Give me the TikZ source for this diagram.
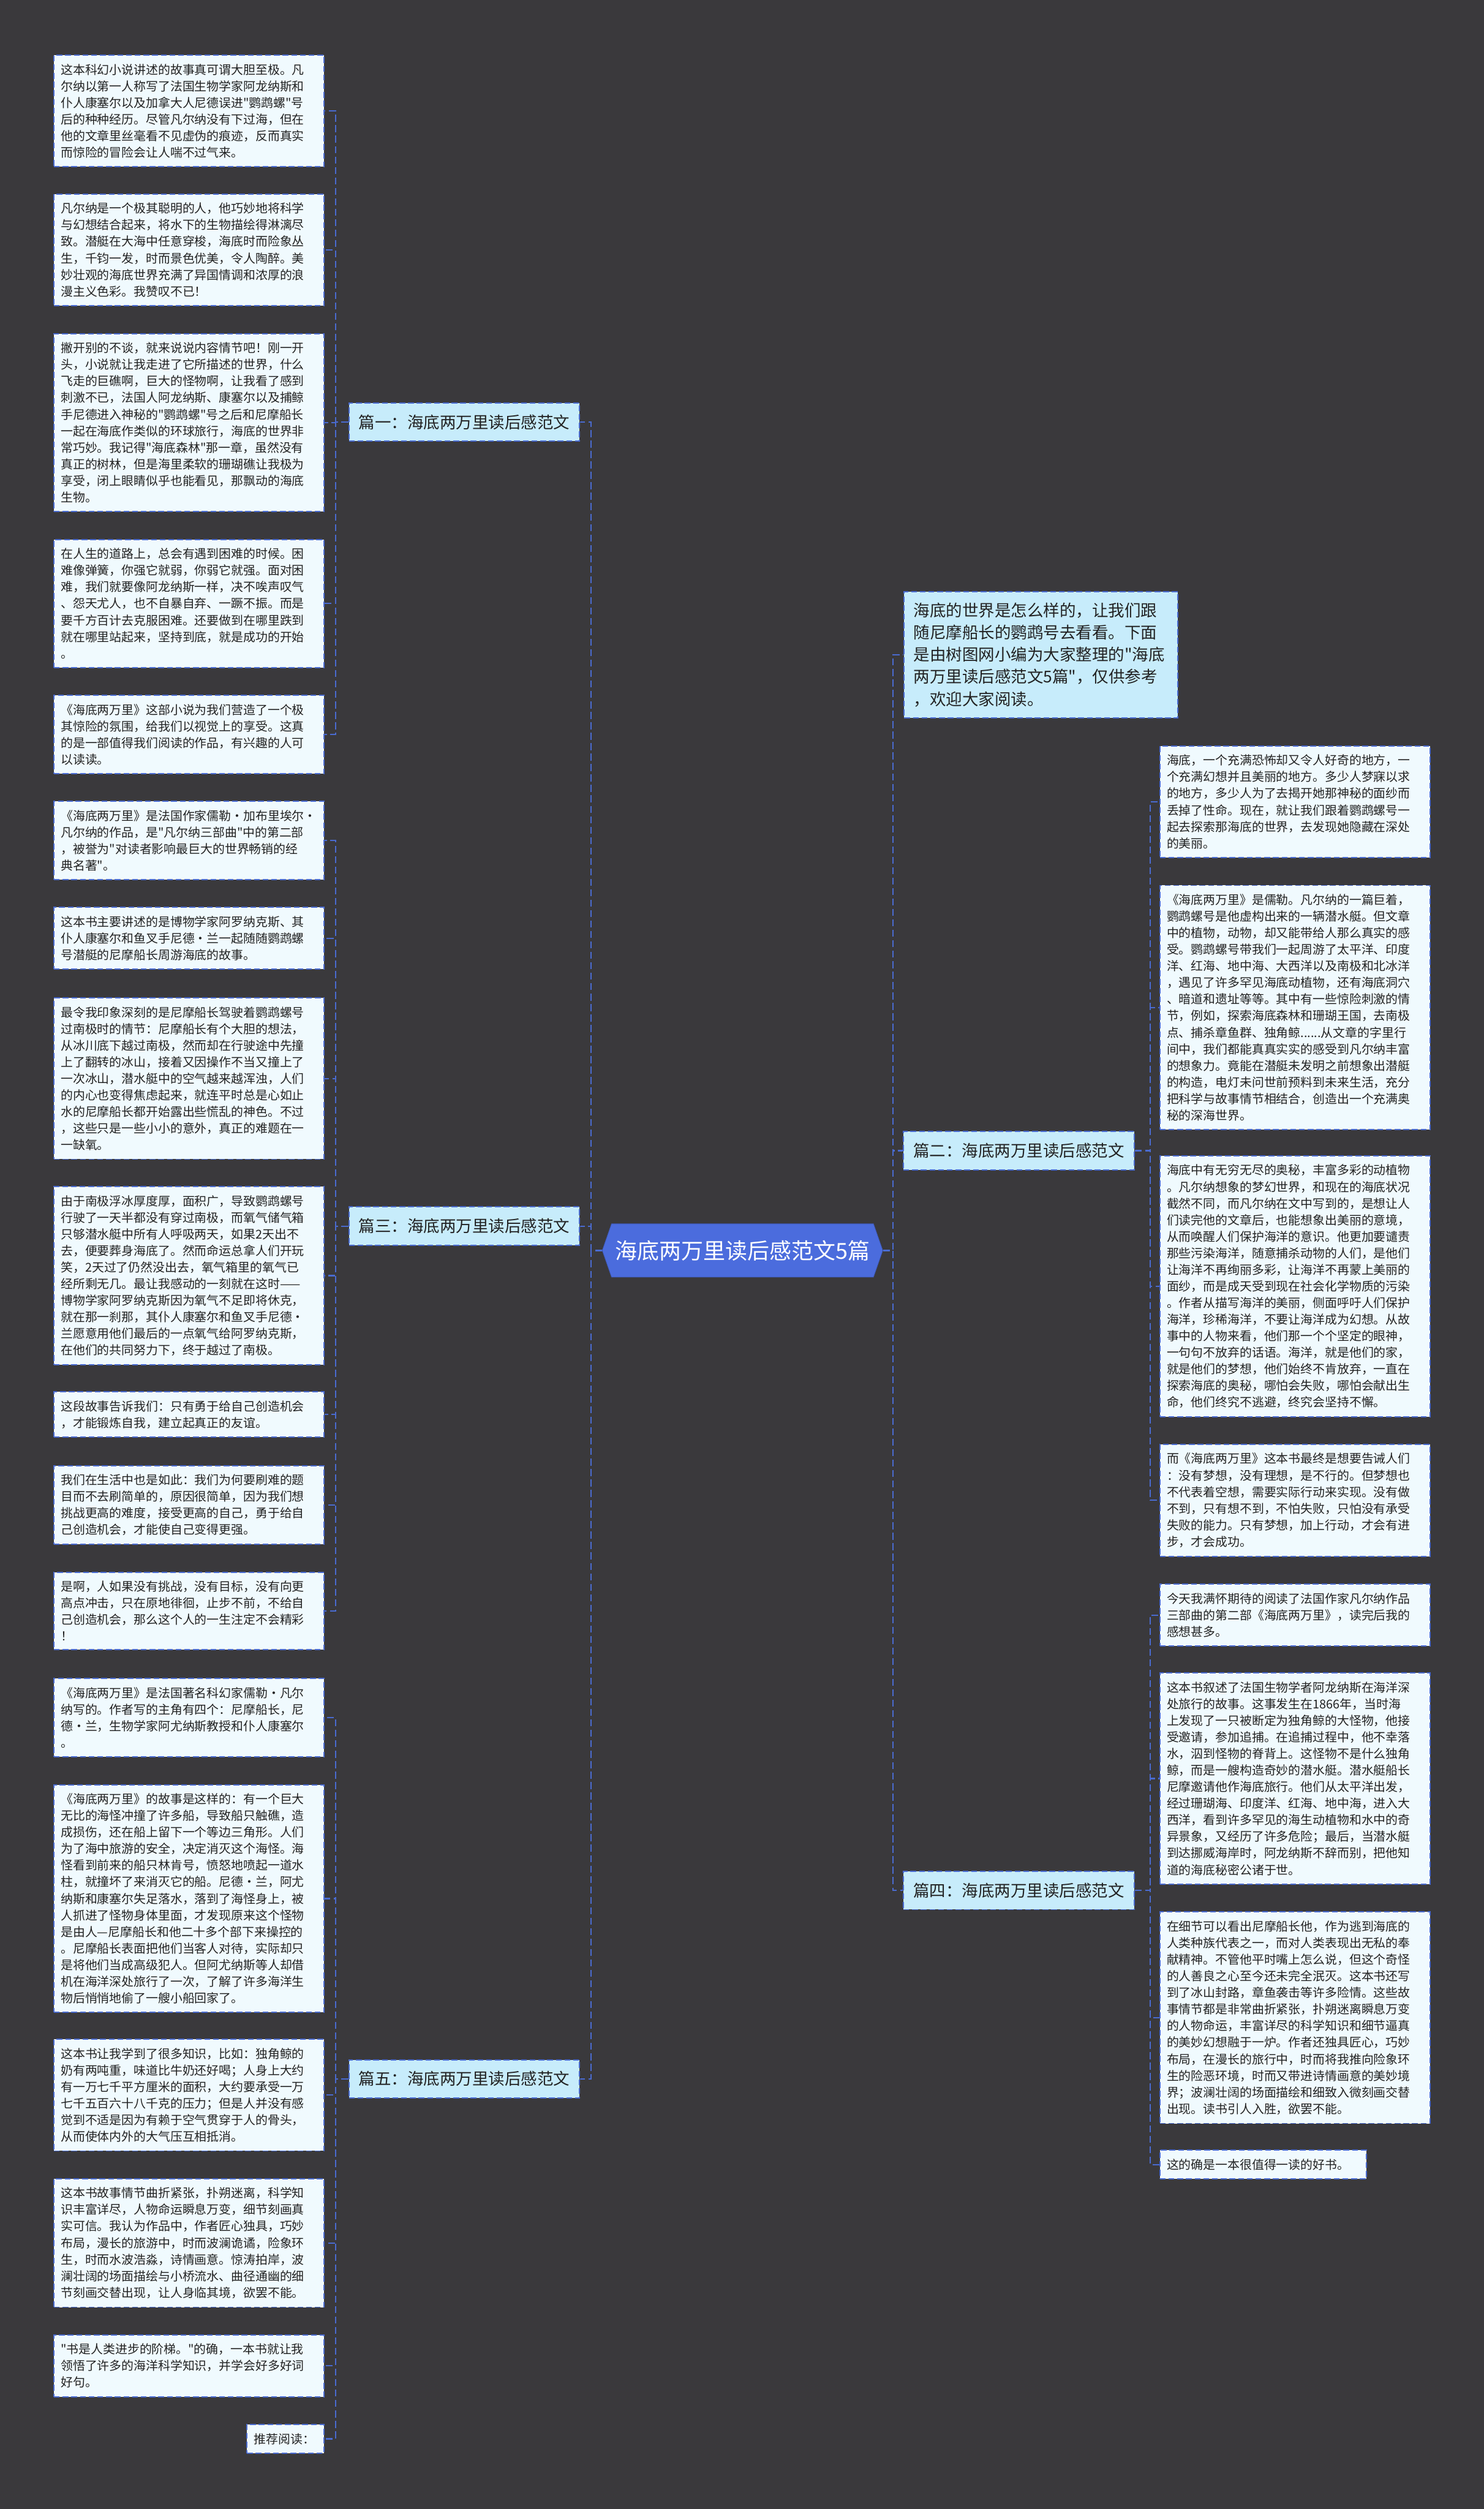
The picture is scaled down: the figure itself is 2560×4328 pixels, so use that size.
\documentclass[tikz,border=0pt]{standalone}
\usepackage{fontspec}
\setmainfont{Noto Sans CJK SC}[Ligatures=TeXOff]
\definecolor{bgcol}{HTML}{3A393C}
\definecolor{leafcol}{HTML}{F0FAFE}
\definecolor{branchcol}{HTML}{C7ECFB}
\definecolor{linecol}{HTML}{4A6BD0}
\definecolor{rootcol}{HTML}{4B6CDD}
\definecolor{inkcol}{HTML}{222222}
\tikzset{
  leafbox/.style={draw=linecol, fill=leafcol, line width=1pt, dash pattern=on 5pt off 2.5pt,
    text=inkcol, font=\fontsize{10.5pt}{14.3pt}\selectfont, align=left,
    text width=221pt, inner xsep=6pt, inner ysep=7.5pt},
  branchbox/.style={draw=linecol, fill=branchcol, line width=1pt, dash pattern=on 5pt off 2.5pt,
    text=inkcol, font=\fontsize{14pt}{17pt}\selectfont, minimum width=199pt, minimum height=33pt, inner sep=0pt},
  introbox/.style={draw=linecol, fill=branchcol, line width=1pt, dash pattern=on 5pt off 2.5pt,
    text=inkcol, font=\fontsize{14pt}{19.15pt}\selectfont, align=left,
    text width=220pt, inner xsep=8pt, inner ysep=9.5pt},
  rootbox/.style={text=white, font=\fontsize{19pt}{23pt}\selectfont,
    minimum width=242pt, minimum height=46pt, inner sep=0pt},
  conn/.style={draw=linecol, line width=1.2pt, dash pattern=on 6pt off 3pt}
}
\begin{document}
\begin{tikzpicture}[x=0.5pt,y=-0.5pt]
 \fill[bgcol](0,0) rectangle (2560,4328);
 \useasboundingbox (0,0) rectangle (2560,4328);
 % centre
 \fill[rootcol,draw=rootcol!80!black](1055,2111)--(1507,2111)--(1523,2157)--(1507,2203)--(1055,2203)--(1039,2157)--cycle;
 \node[rootbox] (root) at (1281,2157) {海底两万里读后感范文5篇};
 % branches
 \node[branchbox] (b1) at (801,728) {篇一：海底两万里读后感范文};
 \node[branchbox] (b3) at (801,2115) {篇三：海底两万里读后感范文};
 \node[branchbox] (b5) at (801,3586) {篇五：海底两万里读后感范文};
 \node[branchbox] (b2) at (1757.5,1985) {篇二：海底两万里读后感范文};
 \node[branchbox] (b4) at (1757.5,3261) {篇四：海底两万里读后感范文};
 \node[introbox] (intro) at (1796,1129.5) {海底的世界是怎么样的，让我们跟\\随尼摩船长的鹦鹉号去看看。下面\\是由树图网小编为大家整理的"海底\\两万里读后感范文5篇"，仅供参考\\，欢迎大家阅读。};
 % left leaves
 \node[leafbox,anchor=east] (l1) at (560,191.5) {这本科幻小说讲述的故事真可谓大胆至极。凡\\尔纳以第一人称写了法国生物学家阿龙纳斯和\\仆人康塞尔以及加拿大人尼德误进"鹦鹉螺"号\\后的种种经历。尽管凡尔纳没有下过海，但在\\他的文章里丝毫看不见虚伪的痕迹，反而真实\\而惊险的冒险会让人喘不过气来。};
 \node[leafbox,anchor=east] (l2) at (560,431) {凡尔纳是一个极其聪明的人，他巧妙地将科学\\与幻想结合起来，将水下的生物描绘得淋漓尽\\致。潜艇在大海中任意穿梭，海底时而险象丛\\生，千钧一发，时而景色优美，令人陶醉。美\\妙壮观的海底世界充满了异国情调和浓厚的浪\\漫主义色彩。我赞叹不已！};
 \node[leafbox,anchor=east] (l3) at (560,729) {撇开别的不谈，就来说说内容情节吧！刚一开\\头，小说就让我走进了它所描述的世界，什么\\飞走的巨礁啊，巨大的怪物啊，让我看了感到\\刺激不已，法国人阿龙纳斯、康塞尔以及捕鲸\\手尼德进入神秘的"鹦鹉螺"号之后和尼摩船长\\一起在海底作类似的环球旅行，海底的世界非\\常巧妙。我记得"海底森林"那一章，虽然没有\\真正的树林，但是海里柔软的珊瑚礁让我极为\\享受，闭上眼睛似乎也能看见，那飘动的海底\\生物。};
 \node[leafbox,anchor=east] (l4) at (560,1041) {在人生的道路上，总会有遇到困难的时候。困\\难像弹簧，你强它就弱，你弱它就强。面对困\\难，我们就要像阿龙纳斯一样，决不唉声叹气\\、怨天尤人，也不自暴自弃、一蹶不振。而是\\要千方百计去克服困难。还要做到在哪里跌到\\就在哪里站起来，坚持到底，就是成功的开始\\。};
 \node[leafbox,anchor=east] (l5) at (560,1267) {《海底两万里》这部小说为我们营造了一个极\\其惊险的氛围，给我们以视觉上的享受。这真\\的是一部值得我们阅读的作品，有兴趣的人可\\以读读。};
 \node[leafbox,anchor=east] (l6) at (560,1450) {《海底两万里》是法国作家儒勒·加布里埃尔·\\凡尔纳的作品，是"凡尔纳三部曲"中的第二部\\，被誉为"对读者影响最巨大的世界畅销的经\\典名著"。};
 \node[leafbox,anchor=east] (l7) at (560,1618.5) {这本书主要讲述的是博物学家阿罗纳克斯、其\\仆人康塞尔和鱼叉手尼德·兰一起随随鹦鹉螺\\号潜艇的尼摩船长周游海底的故事。};
 \node[leafbox,anchor=east] (l8) at (560,1860.5) {最令我印象深刻的是尼摩船长驾驶着鹦鹉螺号\\过南极时的情节：尼摩船长有个大胆的想法，\\从冰川底下越过南极，然而却在行驶途中先撞\\上了翻转的冰山，接着又因操作不当又撞上了\\一次冰山，潜水艇中的空气越来越浑浊，人们\\的内心也变得焦虑起来，就连平时总是心如止\\水的尼摩船长都开始露出些慌乱的神色。不过\\，这些只是一些小小的意外，真正的难题在一\\一缺氧。};
 \node[leafbox,anchor=east] (l9) at (560,2200.5) {由于南极浮冰厚度厚，面积广，导致鹦鹉螺号\\行驶了一天半都没有穿过南极，而氧气储气箱\\只够潜水艇中所有人呼吸两天，如果2天出不\\去，便要葬身海底了。然而命运总拿人们开玩\\笑，2天过了仍然没出去，氧气箱里的氧气已\\经所剩无几。最让我感动的一刻就在这时——\\博物学家阿罗纳克斯因为氧气不足即将休克，\\就在那一刹那，其仆人康塞尔和鱼叉手尼德·\\兰愿意用他们最后的一点氧气给阿罗纳克斯，\\在他们的共同努力下，终于越过了南极。};
 \node[leafbox,anchor=east] (l10) at (560,2440) {这段故事告诉我们：只有勇于给自己创造机会\\，才能锻炼自我，建立起真正的友谊。};
 \node[leafbox,anchor=east] (l11) at (560,2596) {我们在生活中也是如此：我们为何要刷难的题\\目而不去刷简单的，原因很简单，因为我们想\\挑战更高的难度，接受更高的自己，勇于给自\\己创造机会，才能使自己变得更强。};
 \node[leafbox,anchor=east] (l12) at (560,2779) {是啊，人如果没有挑战，没有目标，没有向更\\高点冲击，只在原地徘徊，止步不前，不给自\\己创造机会，那么这个人的一生注定不会精彩\\！};
 \node[leafbox,anchor=east] (l13) at (560,2963) {《海底两万里》是法国著名科幻家儒勒·凡尔\\纳写的。作者写的主角有四个：尼摩船长，尼\\德·兰，生物学家阿尤纳斯教授和仆人康塞尔\\。};
 \node[leafbox,anchor=east] (l14) at (560,3275) {《海底两万里》的故事是这样的：有一个巨大\\无比的海怪冲撞了许多船，导致船只触礁，造\\成损伤，还在船上留下一个等边三角形。人们\\为了海中旅游的安全，决定消灭这个海怪。海\\怪看到前来的船只林肯号，愤怒地喷起一道水\\柱，就撞坏了来消灭它的船。尼德·兰，阿尤\\纳斯和康塞尔失足落水，落到了海怪身上，被\\人抓进了怪物身体里面，才发现原来这个怪物\\是由人—尼摩船长和他二十多个部下来操控的\\。尼摩船长表面把他们当客人对待，实际却只\\是将他们当成高级犯人。但阿尤纳斯等人却借\\机在海洋深处旅行了一次，了解了许多海洋生\\物后悄悄地偷了一艘小船回家了。};
 \node[leafbox,anchor=east] (l15) at (560,3614) {这本书让我学到了很多知识，比如：独角鲸的\\奶有两吨重，味道比牛奶还好喝；人身上大约\\有一万七千平方厘米的面积，大约要承受一万\\七千五百六十八千克的压力；但是人并没有感\\觉到不适是因为有赖于空气贯穿于人的骨头，\\从而使体内外的大气压互相抵消。};
 \node[leafbox,anchor=east] (l16) at (560,3869) {这本书故事情节曲折紧张，扑朔迷离，科学知\\识丰富详尽，人物命运瞬息万变，细节刻画真\\实可信。我认为作品中，作者匠心独具，巧妙\\布局，漫长的旅游中，时而波澜诡谲，险象环\\生，时而水波浩淼，诗情画意。惊涛拍岸，波\\澜壮阔的场面描绘与小桥流水、曲径通幽的细\\节刻画交替出现，让人身临其境，欲罢不能。};
 \node[leafbox,anchor=east] (l17) at (560,4081) {"书是人类进步的阶梯。"的确，一本书就让我\\领悟了许多的海洋科学知识，并学会好多好词\\好句。};
 \node[leafbox,anchor=east,text width=54.5pt] (l18) at (560,4207) {推荐阅读：};
 % right leaves
 \node[leafbox,anchor=west] (r1) at (2000,1383) {海底，一个充满恐怖却又令人好奇的地方，一\\个充满幻想并且美丽的地方。多少人梦寐以求\\的地方，多少人为了去揭开她那神秘的面纱而\\丢掉了性命。现在，就让我们跟着鹦鹉螺号一\\起去探索那海底的世界，去发现她隐藏在深处\\的美丽。};
 \node[leafbox,anchor=west] (r2) at (2000,1738) {《海底两万里》是儒勒。凡尔纳的一篇巨着，\\鹦鹉螺号是他虚构出来的一辆潜水艇。但文章\\中的植物，动物，却又能带给人那么真实的感\\受。鹦鹉螺号带我们一起周游了太平洋、印度\\洋、红海、地中海、大西洋以及南极和北冰洋\\，遇见了许多罕见海底动植物，还有海底洞穴\\、暗道和遗址等等。其中有一些惊险刺激的情\\节，例如，探索海底森林和珊瑚王国，去南极\\点、捕杀章鱼群、独角鲸......从文章的字里行\\间中，我们都能真真实实的感受到凡尔纳丰富\\的想象力。竟能在潜艇未发明之前想象出潜艇\\的构造，电灯未问世前预料到未来生活，充分\\把科学与故事情节相结合，创造出一个充满奥\\秘的深海世界。};
 \node[leafbox,anchor=west] (r3) at (2000,2219) {海底中有无穷无尽的奥秘，丰富多彩的动植物\\。凡尔纳想象的梦幻世界，和现在的海底状况\\截然不同，而凡尔纳在文中写到的，是想让人\\们读完他的文章后，也能想象出美丽的意境，\\从而唤醒人们保护海洋的意识。他更加要谴责\\那些污染海洋，随意捕杀动物的人们，是他们\\让海洋不再绚丽多彩，让海洋不再蒙上美丽的\\面纱，而是成天受到现在社会化学物质的污染\\。作者从描写海洋的美丽，侧面呼吁人们保护\\海洋，珍稀海洋，不要让海洋成为幻想。从故\\事中的人物来看，他们那一个个坚定的眼神，\\一句句不放弃的话语。海洋，就是他们的家，\\就是他们的梦想，他们始终不肯放弃，一直在\\探索海底的奥秘，哪怕会失败，哪怕会献出生\\命，他们终究不逃避，终究会坚持不懈。};
 \node[leafbox,anchor=west] (r4) at (2000,2588) {而《海底两万里》这本书最终是想要告诫人们\\：没有梦想，没有理想，是不行的。但梦想也\\不代表着空想，需要实际行动来实现。没有做\\不到，只有想不到，不怕失败，只怕没有承受\\失败的能力。只有梦想，加上行动，才会有进\\步，才会成功。};
 \node[leafbox,anchor=west] (r5) at (2000,2786) {今天我满怀期待的阅读了法国作家凡尔纳作品\\三部曲的第二部《海底两万里》，读完后我的\\感想甚多。};
 \node[leafbox,anchor=west] (r6) at (2000,3068) {这本书叙述了法国生物学者阿龙纳斯在海洋深\\处旅行的故事。这事发生在1866年，当时海\\上发现了一只被断定为独角鲸的大怪物，他接\\受邀请，参加追捕。在追捕过程中，他不幸落\\水，泅到怪物的脊背上。这怪物不是什么独角\\鲸，而是一艘构造奇妙的潜水艇。潜水艇船长\\尼摩邀请他作海底旅行。他们从太平洋出发，\\经过珊瑚海、印度洋、红海、地中海，进入大\\西洋，看到许多罕见的海生动植物和水中的奇\\异景象，又经历了许多危险；最后，当潜水艇\\到达挪威海岸时，阿龙纳斯不辞而别，把他知\\道的海底秘密公诸于世。};
 \node[leafbox,anchor=west] (r7) at (2000,3480.5) {在细节可以看出尼摩船长他，作为逃到海底的\\人类种族代表之一，而对人类表现出无私的奉\\献精神。不管他平时嘴上怎么说，但这个奇怪\\的人善良之心至今还未完全泯灭。这本书还写\\到了冰山封路，章鱼袭击等许多险情。这些故\\事情节都是非常曲折紧张，扑朔迷离瞬息万变\\的人物命运，丰富详尽的科学知识和细节逼真\\的美妙幻想融于一炉。作者还独具匠心，巧妙\\布局，在漫长的旅行中，时而将我推向险象环\\生的险恶环境，时而又带进诗情画意的美妙境\\界；波澜壮阔的场面描绘和细致入微刻画交替\\出现。读书引人入胜，欲罢不能。};
 \node[leafbox,anchor=west,text width=166pt] (r8) at (2000,3734) {这的确是一本很值得一读的好书。};
 % connectors
 \draw[conn](root.west)--++(-19,0)|-(b1.east);
 \draw[conn](root.west)--++(-19,0)|-(b3.east);
 \draw[conn](root.west)--++(-19,0)|-(b5.east);
 \draw[conn](root.east)--++(17,0)|-(intro.west);
 \draw[conn](root.east)--++(17,0)|-(b2.west);
 \draw[conn](root.east)--++(17,0)|-(b4.west);
 \foreach \n in {l1,l2,l3,l4,l5}
  \draw[conn](b1.west)--++(-22,0)|-(\n.east);
 \foreach \n in {l6,l7,l8,l9,l10,l11,l12}
  \draw[conn](b3.west)--++(-22,0)|-(\n.east);
 \foreach \n in {l13,l14,l15,l16,l17,l18}
  \draw[conn](b5.west)--++(-22,0)|-(\n.east);
 \foreach \n in {r1,r2,r3,r4}
  \draw[conn](b2.east)--++(27,0)|-(\n.west);
 \foreach \n in {r5,r6,r7,r8}
  \draw[conn](b4.east)--++(27,0)|-(\n.west);
\end{tikzpicture}
\end{document}
